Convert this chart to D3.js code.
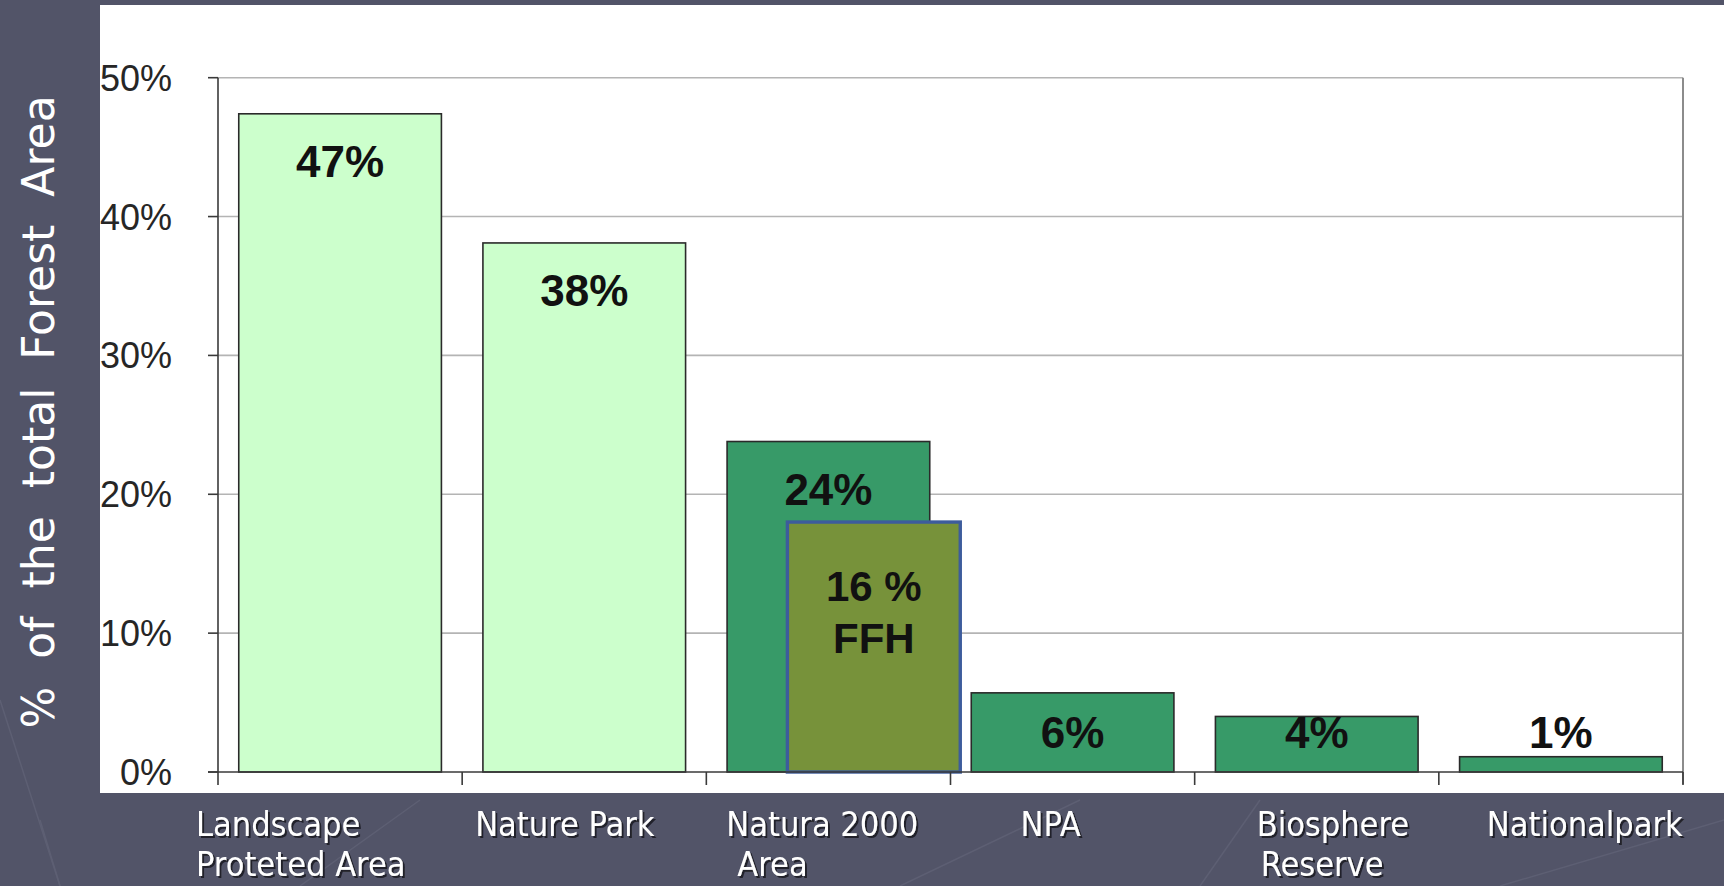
<!DOCTYPE html>
<html>
<head>
<meta charset="utf-8">
<script src="https://cdn.jsdelivr.net/npm/d3@7"></script>
<style>
  html, body { margin: 0; padding: 0; background: #525468; overflow: hidden; }
  svg { display: block; }
</style>
</head>
<body>
<svg id="chart" width="1724" height="886"></svg>
<script>
// ---- data ----
const categories = ["Landscape Proteted Area", "Nature Park", "Natura 2000 Area", "NPA", "Biosphere Reserve", "Nationalpark"];
const categoryLines = [["Landscape", "Proteted Area"], ["Nature Park"], ["Natura 2000", "Area"], ["NPA"], ["Biosphere", "Reserve"], ["Nationalpark"]];
const values = [47.4, 38.1, 23.8, 5.7, 4.0, 1.1];
const valueLabels = ["47%", "38%", "24%", "6%", "4%", "1%"];
const barGroup = ["light", "light", "dark", "dark", "dark", "dark"];
const ffhCategory = "Natura 2000 Area";
const ffhValue = 18.0;
const ffhLabelLines = ["16 %", "FFH"];
const yTicks = [0, 10, 20, 30, 40, 50];
const yTitle = "%\u00a0\u00a0of\u00a0\u00a0the\u00a0\u00a0total\u00a0\u00a0Forest\u00a0\u00a0Area";

// ---- layout ----
const W = 1724, H = 886;
const plot = { left: 218, right: 1683, top: 77.7, bottom: 772 };
const labelDx = [[-22, -22], [13], [20, 31], [70], [62, 66], [48]];
const colors = { light: "#ccffcc", dark: "#379a68", ffh: "#77923a", ffhStroke: "#3d5c9c" };

const svg = d3.select("#chart");

// text shadow filter
const defs = svg.append("defs");
const f = defs.append("filter").attr("id", "shadow").attr("x", "-5%").attr("y", "-20%").attr("width", "115%").attr("height", "150%");
f.append("feDropShadow").attr("dx", 2).attr("dy", 2).attr("stdDeviation", 0.6)
  .attr("flood-color", "#15151c").attr("flood-opacity", 0.85);

// slide background with faint decorative lines
svg.append("rect").attr("width", W).attr("height", H).attr("fill", "#525468");
const deco = svg.append("g").attr("stroke", "#5d5f73").attr("stroke-width", 1.5).attr("fill", "none");
[[0, 700, 60, 886], [60, 886, 40, 820], [300, 886, 420, 800], [900, 886, 1080, 800], [1200, 886, 1260, 800], [1500, 886, 1724, 820]]
  .forEach(d => deco.append("line").attr("x1", d[0]).attr("y1", d[1]).attr("x2", d[2]).attr("y2", d[3]));

// white chart panel
svg.append("rect").attr("x", 100).attr("y", 5).attr("width", W - 100).attr("height", 788).attr("fill", "#ffffff");

const x = d3.scaleBand().domain(categories).range([plot.left, plot.right]).paddingInner(0.17).paddingOuter(0.085);
const y = d3.scaleLinear().domain([0, 50]).range([plot.bottom, plot.top]);
const step = x.step();
const bandLeft = c => x(c) - step * 0.085;

// gridlines
svg.append("g").selectAll("line").data(yTicks.filter(t => t > 0)).join("line")
  .attr("x1", plot.left).attr("x2", plot.right)
  .attr("y1", d => y(d)).attr("y2", d => y(d))
  .attr("stroke", "#b4b4b4").attr("stroke-width", 1.6);

// right border
svg.append("line").attr("x1", plot.right).attr("x2", plot.right).attr("y1", y(50)).attr("y2", plot.bottom + 12)
  .attr("stroke", "#8c8c8c").attr("stroke-width", 2);

// bars
svg.append("g").selectAll("rect").data(categories).join("rect")
  .attr("x", d => x(d)).attr("width", x.bandwidth())
  .attr("y", (d, i) => y(values[i])).attr("height", (d, i) => y(0) - y(values[i]))
  .attr("fill", (d, i) => colors[barGroup[i]])
  .attr("stroke", "#2a2a2a").attr("stroke-width", 1.6);

// FFH overlay bar
const ffhX0 = bandLeft(ffhCategory) + step * 0.332;
const ffhX1 = bandLeft(ffhCategory) + step * 1.04;
svg.append("rect")
  .attr("x", ffhX0).attr("width", ffhX1 - ffhX0)
  .attr("y", y(ffhValue)).attr("height", y(0) - y(ffhValue))
  .attr("fill", colors.ffh).attr("stroke", colors.ffhStroke).attr("stroke-width", 3.4);

// axes lines
const axisG = svg.append("g").attr("stroke", "#3a3a3a").attr("stroke-width", 1.6);
axisG.append("line").attr("x1", plot.left).attr("x2", plot.left).attr("y1", y(50)).attr("y2", plot.bottom + 13);
axisG.append("line").attr("x1", plot.left - 10).attr("x2", plot.right).attr("y1", plot.bottom).attr("y2", plot.bottom);
yTicks.forEach(t => axisG.append("line").attr("x1", plot.left - 10).attr("x2", plot.left).attr("y1", y(t)).attr("y2", y(t)));
categories.forEach((c, i) => {
  const bx = bandLeft(c) + step;
  axisG.append("line").attr("x1", bx).attr("x2", bx).attr("y1", plot.bottom).attr("y2", plot.bottom + 13);
});

// y tick labels
svg.append("g").selectAll("text").data(yTicks).join("text")
  .attr("x", 172).attr("y", d => y(d)).attr("dy", "0.36em")
  .attr("text-anchor", "end")
  .attr("font-family", "'Liberation Sans', Arial, sans-serif").attr("font-size", 36)
  .attr("fill", "#262626")
  .text(d => d + "%");

// value labels
svg.append("g").selectAll("text").data(categories).join("text")
  .attr("x", d => x(d) + x.bandwidth() / 2)
  .attr("y", (d, i) => Math.min(y(values[i]) + 63, y(0) - 24))
  .attr("text-anchor", "middle")
  .attr("font-family", "'Liberation Sans', Arial, sans-serif").attr("font-weight", "bold").attr("font-size", 44)
  .attr("fill", "#111")
  .text((d, i) => valueLabels[i]);

// FFH label
ffhLabelLines.forEach((t, k) => {
  svg.append("text")
    .attr("x", (ffhX0 + ffhX1) / 2).attr("y", y(ffhValue) + 79 + k * 52)
    .attr("text-anchor", "middle")
    .attr("font-family", "'Liberation Sans', Arial, sans-serif").attr("font-weight", "bold").attr("font-size", 42)
    .attr("fill", "#111")
    .text(t);
});

// category labels (white with shadow)
const catG = svg.append("g").attr("font-family", "'DejaVu Sans Condensed', 'DejaVu Sans', sans-serif")
  .attr("font-stretch", "condensed").attr("font-size", 34).attr("fill", "#ffffff").attr("filter", "url(#shadow)");
categories.forEach((c, i) => {
  categoryLines[i].forEach((line, k) => {
    catG.append("text")
      .attr("x", bandLeft(c) + labelDx[i][k])
      .attr("y", 836 + k * 40)
      .text(line);
  });
});

// y axis title
svg.append("text")
  .attr("transform", "translate(54,412) rotate(-90)")
  .attr("text-anchor", "middle")
  .attr("font-family", "'DejaVu Sans', Verdana, sans-serif").attr("font-size", 44)
  .attr("fill", "#ffffff")
  .text(yTitle);
</script>
</body>
</html>
